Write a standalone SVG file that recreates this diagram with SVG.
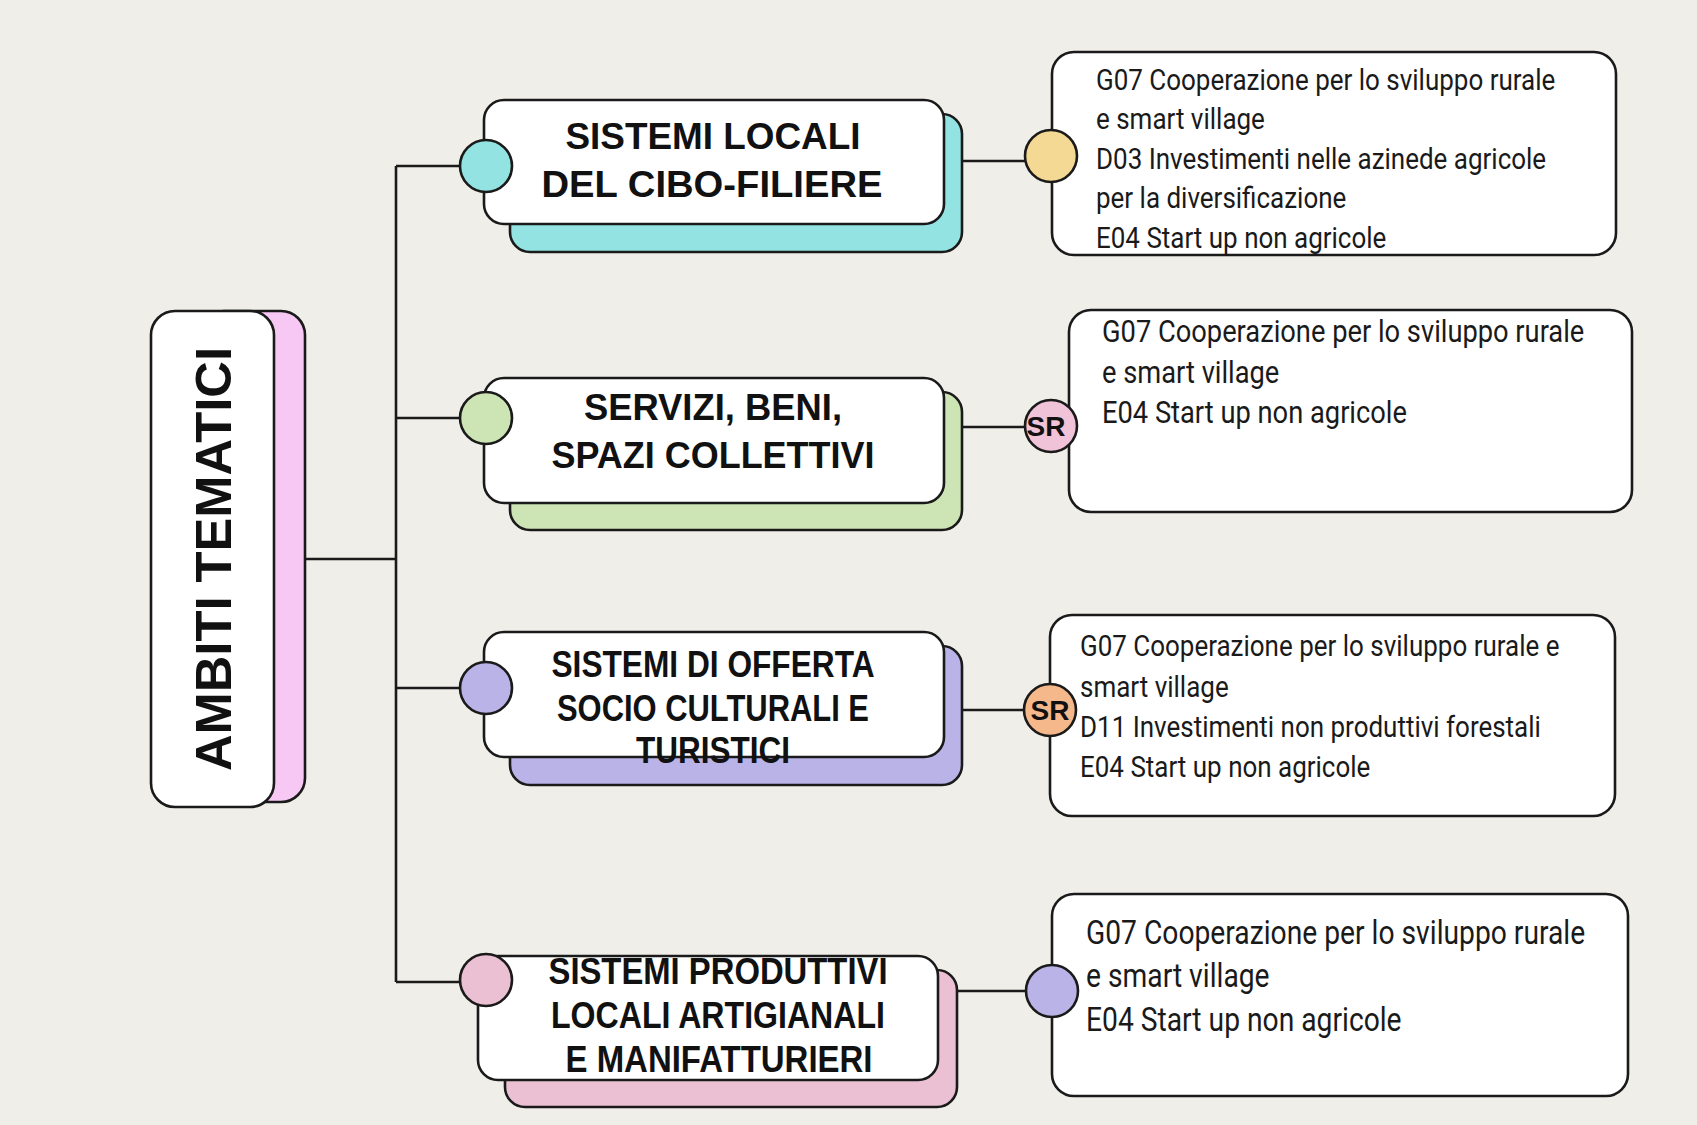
<svg xmlns="http://www.w3.org/2000/svg" width="1697" height="1125" viewBox="0 0 1697 1125">
<style>
.bg{fill:#efeee9}
.box{fill:#ffffff;stroke:#1a1a1a;stroke-width:2.6}
.sh{stroke:#1a1a1a;stroke-width:2.6}
.dot{stroke:#1a1a1a;stroke-width:2.6}
.ln{fill:none;stroke:#1a1a1a;stroke-width:2.6}
.hd{font-family:"Liberation Sans",Arial,sans-serif;font-weight:bold;font-size:37px;fill:#111;text-anchor:middle}
.tt{font-family:"Liberation Sans",Arial,sans-serif;font-weight:bold;font-size:50px;fill:#111;text-anchor:middle}
.bd{font-family:Roboto,"Liberation Sans",sans-serif;fill:#1a1a1a}
.sr{font-family:"Liberation Sans",Arial,sans-serif;font-weight:bold;font-size:28px;fill:#111;text-anchor:middle}
</style>
<rect class="bg" x="0" y="0" width="1697" height="1125"/>

<g id="connectors">
  <path class="ln" d="M304 559 H396"/>
  <path class="ln" d="M396 166 V982"/>
  <path class="ln" d="M396 166 H462"/>
  <path class="ln" d="M396 418 H462"/>
  <path class="ln" d="M396 688 H462"/>
  <path class="ln" d="M396 982 H462"/>
  <path class="ln" d="M962 161 H1026"/>
  <path class="ln" d="M962 427 H1026"/>
  <path class="ln" d="M962 710 H1026"/>
  <path class="ln" d="M957 991 H1026"/>
</g>

<g id="root">
  <rect class="sh" x="200" y="311" width="105" height="491" rx="24" fill="#f8c8f4"/>
  <rect class="box" x="151" y="311" width="123" height="496" rx="24"/>
  <text class="tt" transform="translate(231,559) rotate(-90)" textLength="424" lengthAdjust="spacingAndGlyphs">AMBITI TEMATICI</text>
</g>

<g id="node1">
  <rect class="sh" x="510" y="114" width="452" height="138" rx="20" fill="#94e3e3"/>
  <rect class="box" x="484" y="100" width="460" height="124" rx="20"/>
  <circle class="dot" cx="486" cy="166" r="26" fill="#94e3e3"/>
  <text class="hd" x="713" y="149" textLength="295" lengthAdjust="spacingAndGlyphs">SISTEMI LOCALI</text>
  <text class="hd" x="712" y="197" textLength="341" lengthAdjust="spacingAndGlyphs">DEL CIBO-FILIERE</text>
</g>

<g id="node2">
  <rect class="sh" x="510" y="392" width="452" height="138" rx="20" fill="#cde5b5"/>
  <rect class="box" x="484" y="378" width="460" height="125" rx="20"/>
  <circle class="dot" cx="486" cy="418" r="26" fill="#cde5b5"/>
  <text class="hd" x="713" y="420" textLength="258" lengthAdjust="spacingAndGlyphs">SERVIZI, BENI,</text>
  <text class="hd" x="713" y="468" textLength="323" lengthAdjust="spacingAndGlyphs">SPAZI COLLETTIVI</text>
</g>

<g id="node3">
  <rect class="sh" x="510" y="646" width="452" height="139" rx="20" fill="#b9b3e8"/>
  <rect class="box" x="484" y="632" width="460" height="125" rx="20"/>
  <circle class="dot" cx="486" cy="688" r="26" fill="#b9b3e8"/>
  <text class="hd" x="713" y="677" textLength="323" lengthAdjust="spacingAndGlyphs">SISTEMI DI OFFERTA</text>
  <text class="hd" x="713" y="721" textLength="312" lengthAdjust="spacingAndGlyphs">SOCIO CULTURALI E</text>
  <text class="hd" x="713" y="763" textLength="154" lengthAdjust="spacingAndGlyphs">TURISTICI</text>
</g>

<g id="node4">
  <rect class="sh" x="505" y="970" width="452" height="137" rx="20" fill="#ecc0d3"/>
  <rect class="box" x="478" y="956" width="460" height="124" rx="20"/>
  <circle class="dot" cx="486" cy="980" r="26" fill="#ecc0d3"/>
  <text class="hd" x="718" y="984" textLength="339" lengthAdjust="spacingAndGlyphs">SISTEMI PRODUTTIVI</text>
  <text class="hd" x="718" y="1028" textLength="334" lengthAdjust="spacingAndGlyphs">LOCALI ARTIGIANALI</text>
  <text class="hd" x="719" y="1072" textLength="307" lengthAdjust="spacingAndGlyphs">E MANIFATTURIERI</text>
</g>

<g id="info1">
  <rect class="box" x="1052" y="52" width="564" height="203" rx="22"/>
  <circle class="dot" cx="1051" cy="156" r="26" fill="#f3d993"/>
  <g transform="translate(1096,0) scale(0.866,1)">
    <text class="bd" font-size="30"><tspan x="0" y="90">G07 Cooperazione per lo sviluppo rurale</tspan><tspan x="0" y="129.5">e smart village</tspan><tspan x="0" y="169">D03 Investimenti nelle azinede agricole</tspan><tspan x="0" y="208.5">per la diversificazione</tspan><tspan x="0" y="248">E04 Start up non agricole</tspan></text>
  </g>
</g>

<g id="info2">
  <rect class="box" x="1069" y="310" width="563" height="202" rx="22"/>
  <circle class="dot" cx="1051" cy="426" r="26" fill="#f1c3d8"/>
  <text class="sr" x="1046" y="436">SR</text>
  <g transform="translate(1102,0) scale(0.866,1)">
    <text class="bd" font-size="31.5"><tspan x="0" y="342">G07 Cooperazione per lo sviluppo rurale</tspan><tspan x="0" y="383">e smart village</tspan><tspan x="0" y="423">E04 Start up non agricole</tspan></text>
  </g>
</g>

<g id="info3">
  <rect class="box" x="1050" y="615" width="565" height="201" rx="22"/>
  <circle class="dot" cx="1050" cy="710" r="26" fill="#f5b88a"/>
  <text class="sr" x="1050" y="720">SR</text>
  <g transform="translate(1080,0) scale(0.866,1)">
    <text class="bd" font-size="30"><tspan x="0" y="656">G07 Cooperazione per lo sviluppo rurale e</tspan><tspan x="0" y="697">smart village</tspan><tspan x="0" y="737">D11 Investimenti non produttivi forestali</tspan><tspan x="0" y="777">E04 Start up non agricole</tspan></text>
  </g>
</g>

<g id="info4">
  <rect class="box" x="1052" y="894" width="576" height="202" rx="22"/>
  <circle class="dot" cx="1052" cy="991" r="26" fill="#b9b3e8"/>
  <g transform="translate(1086,0) scale(0.866,1)">
    <text class="bd" font-size="32.6"><tspan x="0" y="944">G07 Cooperazione per lo sviluppo rurale</tspan><tspan x="0" y="987">e smart village</tspan><tspan x="0" y="1031">E04 Start up non agricole</tspan></text>
  </g>
</g>
</svg>
